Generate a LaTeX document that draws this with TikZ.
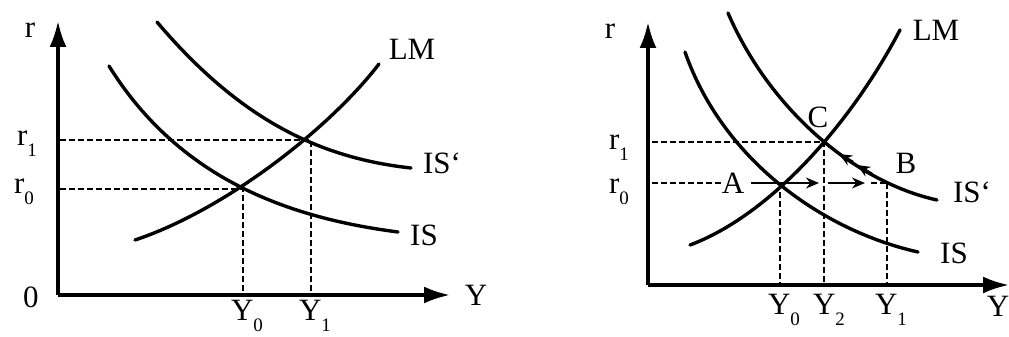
\documentclass[tikz,border=0pt]{standalone}
\usepackage{fontspec}
\setmainfont{Liberation Serif}
\usetikzlibrary{arrows.meta}
\newcommand{\lowidx}[1]{\raisebox{-0.35em}{\fontsize{19}{19}\selectfont #1}}
\begin{document}
\begin{tikzpicture}[x=1pt,y=-1pt,
  curve/.style={line width=3.4pt, line cap=round},
  axis/.style={line width=3.4pt, -{Latex[length=26pt,width=17pt]}},
  guide/.style={line width=2.4pt, dash pattern=on 6pt off 3pt},
  lbl/.style={font=\fontsize{31}{36}\selectfont, inner sep=0pt},
  mv/.style={line width=2.6pt, -{Stealth[length=13pt,width=11pt]}}]
\useasboundingbox (0,0) rectangle (1009,337);

% ---------------- left panel ----------------
\coordinate (O1) at (58,295);
\coordinate (Ytop1) at (58,21);
\coordinate (Xend1) at (450,295);
\draw[axis] (O1) -- (Ytop1);
\draw[axis] (O1) -- (Xend1);

\coordinate (E0) at (243,189);
\coordinate (E1) at (311,140);
\coordinate (r0a) at (60,189);
\coordinate (r1a) at (60,140);
\coordinate (Y0a) at (243,295);
\coordinate (Y1a) at (311,295);
\draw[guide] (r1a) -- (E1) -- (Y1a);
\draw[guide] (r0a) -- (E0) -- (Y0a);

\draw[curve] (135,240) .. controls (225,210) and (329,129) .. (379,64);
\draw[curve] (109,66) .. controls (180,180) and (290,218) .. (398,232);
\draw[curve] (157,22) .. controls (240,120) and (320,158) .. (411,168);

\node[lbl] (LM1) at (412,49) {LM};
\node[lbl] (ISp1) at (442,163) {IS`};
\node[lbl] (IS1) at (424,235) {IS};
\node[lbl] (rax1) at (30,30) {r};
\node[lbl] (zero1) at (31,297) {0};
\node[lbl] (Yax1) at (476,295) {Y};
\node[lbl] (r1l) at (27,144) {r\lowidx{1}};
\node[lbl] (r0l) at (24,192) {r\lowidx{0}};
\node[lbl] (Y0l) at (247,316) {Y\lowidx{0}};
\node[lbl] (Y1l) at (315,316) {Y\lowidx{1}};

% ---------------- right panel ----------------
\coordinate (O2) at (648,285);
\coordinate (Ytop2) at (648,22);
\coordinate (Xend2) at (1009,285);
\draw[axis] (O2) -- (Ytop2);
\draw[axis] (O2) -- (Xend2);

\coordinate (A) at (780,183);
\coordinate (C) at (824,142);
\coordinate (B) at (887,183);
\coordinate (r1b) at (652,142);
\coordinate (r0b) at (652,183);
\coordinate (Y0b) at (780,285);
\coordinate (Y2b) at (824,285);
\coordinate (Y1b) at (887,285);

\node[lbl] (Al) at (733,183) {A};
\draw[guide] (r1b) -- (C) -- (Y2b);
\draw[guide] (r0b) -- (Al.west);
\draw[guide] (A) -- (Y0b);
\draw[guide] (B) -- (Y1b);

\draw[curve] (690,245) .. controls (770,215) and (850,125) .. (900,30);
\draw[curve] (685,52) .. controls (722,158) and (820,230) .. (918,252);
\draw[curve] (728,13) .. controls (770,110) and (855,182) .. (937,200);

\coordinate (m1s) at (751,183);
\coordinate (m1e) at (819,183);
\coordinate (m2s) at (828,183);
\coordinate (m2e) at (865,183);
\coordinate (m3s) at (871,183);
\draw[mv] (m1s) -- (m1e);
\draw[mv] (m2s) -- (m2e);
\draw[guide] (m3s) -- (B);
\coordinate (b1s) at (872,174);
\coordinate (b1e) at (857,165);
\coordinate (b2s) at (853,162);
\coordinate (b2e) at (839,154);
\draw[mv] (b1s) -- (b1e);
\draw[mv] (b2s) -- (b2e);

\node[lbl] (LM2) at (936,30) {LM};
\node[lbl] (ISp2) at (972,192) {IS`};
\node[lbl] (IS2) at (954,253) {IS};
\node[lbl] (Cl) at (818,117) {C};
\node[lbl] (Bl) at (906,163) {B};
\node[lbl] (rax2) at (610,31) {r};
\node[lbl] (r1m) at (619,148) {r\lowidx{1}};
\node[lbl] (r0m) at (619,192) {r\lowidx{0}};
\node[lbl] (Yax2) at (998,306) {Y};
\node[lbl] (Y0m) at (784,310) {Y\lowidx{0}};
\node[lbl] (Y2m) at (829,310) {Y\lowidx{2}};
\node[lbl] (Y1m) at (891,310) {Y\lowidx{1}};
\end{tikzpicture}
\end{document}
